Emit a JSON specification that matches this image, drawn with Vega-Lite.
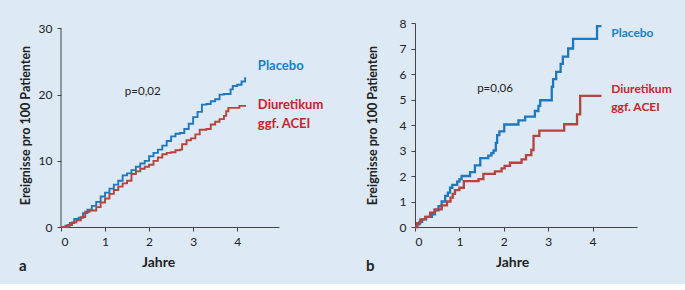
{
  "$schema": "https://vega.github.io/schema/vega-lite/v6.json",
  "background": "#dde9f5",
  "padding": {"left": 19, "top": 17, "right": 32, "bottom": 10},
  "spacing": 42,
  "config": {
    "view": {"stroke": null},
    "font": "Lato",
    "axis": {
      "grid": false,
      "domainColor": "#444",
      "tickColor": "#444",
      "tickSize": 4,
      "labelColor": "#222",
      "labelFontSize": 12,
      "labelFont": "Lato",
      "labelOverlap": false,
      "titleFont": "Lato",
      "titleFontSize": 12.5,
      "titleFontWeight": "bold",
      "titleColor": "#222"
    },
    "text": {"font": "Lato"}
  },
  "datasets": {
    "a": [
      {"t": 0, "y": 0, "s": "Placebo"}, {"t": 0.1, "y": 0.2, "s": "Placebo"}, {"t": 0.2, "y": 0.6, "s": "Placebo"}, {"t": 0.3, "y": 1.2, "s": "Placebo"}, {"t": 0.4, "y": 1.4, "s": "Placebo"}, {"t": 0.5, "y": 2.1, "s": "Placebo"}, {"t": 0.6, "y": 2.6, "s": "Placebo"}, {"t": 0.7, "y": 3.2, "s": "Placebo"}, {"t": 0.8, "y": 3.8, "s": "Placebo"}, {"t": 0.9, "y": 4.6, "s": "Placebo"}, {"t": 1.0, "y": 5.2, "s": "Placebo"}, {"t": 1.1, "y": 5.8, "s": "Placebo"}, {"t": 1.2, "y": 6.4, "s": "Placebo"}, {"t": 1.3, "y": 7.0, "s": "Placebo"}, {"t": 1.4, "y": 7.8, "s": "Placebo"}, {"t": 1.5, "y": 8.1, "s": "Placebo"}, {"t": 1.6, "y": 8.6, "s": "Placebo"}, {"t": 1.7, "y": 9.1, "s": "Placebo"}, {"t": 1.8, "y": 9.6, "s": "Placebo"}, {"t": 1.9, "y": 10.0, "s": "Placebo"}, {"t": 2.0, "y": 10.7, "s": "Placebo"}, {"t": 2.1, "y": 11.2, "s": "Placebo"}, {"t": 2.2, "y": 11.7, "s": "Placebo"}, {"t": 2.3, "y": 12.3, "s": "Placebo"}, {"t": 2.4, "y": 13.0, "s": "Placebo"}, {"t": 2.5, "y": 13.7, "s": "Placebo"}, {"t": 2.6, "y": 14.1, "s": "Placebo"}, {"t": 2.7, "y": 14.2, "s": "Placebo"}, {"t": 2.8, "y": 14.8, "s": "Placebo"}, {"t": 2.9, "y": 15.6, "s": "Placebo"}, {"t": 3.0, "y": 16.6, "s": "Placebo"}, {"t": 3.1, "y": 17.4, "s": "Placebo"}, {"t": 3.2, "y": 18.5, "s": "Placebo"}, {"t": 3.3, "y": 18.6, "s": "Placebo"}, {"t": 3.4, "y": 19.0, "s": "Placebo"}, {"t": 3.5, "y": 19.3, "s": "Placebo"}, {"t": 3.6, "y": 20.0, "s": "Placebo"}, {"t": 3.7, "y": 20.1, "s": "Placebo"}, {"t": 3.85, "y": 20.8, "s": "Placebo"}, {"t": 3.9, "y": 21.3, "s": "Placebo"}, {"t": 4.0, "y": 21.5, "s": "Placebo"}, {"t": 4.1, "y": 22.0, "s": "Placebo"}, {"t": 4.18, "y": 22.5, "s": "Placebo"}, {"t": 4.2, "y": 22.5, "s": "Placebo"},
      {"t": 0, "y": 0, "s": "Diuretikum"}, {"t": 0.15, "y": 0.3, "s": "Diuretikum"}, {"t": 0.25, "y": 0.7, "s": "Diuretikum"}, {"t": 0.35, "y": 1.0, "s": "Diuretikum"}, {"t": 0.45, "y": 1.5, "s": "Diuretikum"}, {"t": 0.55, "y": 2.3, "s": "Diuretikum"}, {"t": 0.65, "y": 2.5, "s": "Diuretikum"}, {"t": 0.8, "y": 3.0, "s": "Diuretikum"}, {"t": 0.9, "y": 3.7, "s": "Diuretikum"}, {"t": 1.0, "y": 4.3, "s": "Diuretikum"}, {"t": 1.1, "y": 5.0, "s": "Diuretikum"}, {"t": 1.2, "y": 5.6, "s": "Diuretikum"}, {"t": 1.3, "y": 6.1, "s": "Diuretikum"}, {"t": 1.4, "y": 6.6, "s": "Diuretikum"}, {"t": 1.5, "y": 7.0, "s": "Diuretikum"}, {"t": 1.6, "y": 8.0, "s": "Diuretikum"}, {"t": 1.7, "y": 8.4, "s": "Diuretikum"}, {"t": 1.8, "y": 8.8, "s": "Diuretikum"}, {"t": 1.9, "y": 9.1, "s": "Diuretikum"}, {"t": 2.0, "y": 9.4, "s": "Diuretikum"}, {"t": 2.1, "y": 10.0, "s": "Diuretikum"}, {"t": 2.2, "y": 10.5, "s": "Diuretikum"}, {"t": 2.3, "y": 11.0, "s": "Diuretikum"}, {"t": 2.4, "y": 11.2, "s": "Diuretikum"}, {"t": 2.5, "y": 11.3, "s": "Diuretikum"}, {"t": 2.6, "y": 11.6, "s": "Diuretikum"}, {"t": 2.7, "y": 11.7, "s": "Diuretikum"}, {"t": 2.75, "y": 12.5, "s": "Diuretikum"}, {"t": 2.85, "y": 13.1, "s": "Diuretikum"}, {"t": 2.95, "y": 13.4, "s": "Diuretikum"}, {"t": 3.05, "y": 14.0, "s": "Diuretikum"}, {"t": 3.15, "y": 14.7, "s": "Diuretikum"}, {"t": 3.3, "y": 14.8, "s": "Diuretikum"}, {"t": 3.4, "y": 15.5, "s": "Diuretikum"}, {"t": 3.5, "y": 15.9, "s": "Diuretikum"}, {"t": 3.6, "y": 16.3, "s": "Diuretikum"}, {"t": 3.7, "y": 16.8, "s": "Diuretikum"}, {"t": 3.75, "y": 17.5, "s": "Diuretikum"}, {"t": 3.8, "y": 18.0, "s": "Diuretikum"}, {"t": 4.0, "y": 18.0, "s": "Diuretikum"}, {"t": 4.05, "y": 18.3, "s": "Diuretikum"}, {"t": 4.2, "y": 18.3, "s": "Diuretikum"}
    ],
    "b": [
      {"t": 0, "y": 0, "s": "Placebo"}, {"t": 0.05, "y": 0.1, "s": "Placebo"}, {"t": 0.1, "y": 0.2, "s": "Placebo"}, {"t": 0.16, "y": 0.3, "s": "Placebo"}, {"t": 0.25, "y": 0.4, "s": "Placebo"}, {"t": 0.38, "y": 0.5, "s": "Placebo"}, {"t": 0.45, "y": 0.65, "s": "Placebo"}, {"t": 0.53, "y": 0.82, "s": "Placebo"}, {"t": 0.6, "y": 1.0, "s": "Placebo"}, {"t": 0.68, "y": 1.22, "s": "Placebo"}, {"t": 0.74, "y": 1.35, "s": "Placebo"}, {"t": 0.79, "y": 1.54, "s": "Placebo"}, {"t": 0.84, "y": 1.65, "s": "Placebo"}, {"t": 0.95, "y": 1.78, "s": "Placebo"}, {"t": 1.0, "y": 1.87, "s": "Placebo"}, {"t": 1.05, "y": 2.0, "s": "Placebo"}, {"t": 1.24, "y": 2.15, "s": "Placebo"}, {"t": 1.35, "y": 2.42, "s": "Placebo"}, {"t": 1.47, "y": 2.7, "s": "Placebo"}, {"t": 1.65, "y": 2.8, "s": "Placebo"}, {"t": 1.72, "y": 2.9, "s": "Placebo"}, {"t": 1.77, "y": 3.0, "s": "Placebo"}, {"t": 1.82, "y": 3.3, "s": "Placebo"}, {"t": 1.85, "y": 3.6, "s": "Placebo"}, {"t": 1.9, "y": 3.75, "s": "Placebo"}, {"t": 2.01, "y": 4.02, "s": "Placebo"}, {"t": 2.33, "y": 4.18, "s": "Placebo"}, {"t": 2.48, "y": 4.33, "s": "Placebo"}, {"t": 2.7, "y": 4.55, "s": "Placebo"}, {"t": 2.78, "y": 4.75, "s": "Placebo"}, {"t": 2.82, "y": 4.97, "s": "Placebo"}, {"t": 3.08, "y": 5.5, "s": "Placebo"}, {"t": 3.11, "y": 5.8, "s": "Placebo"}, {"t": 3.18, "y": 6.08, "s": "Placebo"}, {"t": 3.28, "y": 6.4, "s": "Placebo"}, {"t": 3.33, "y": 6.68, "s": "Placebo"}, {"t": 3.45, "y": 7.0, "s": "Placebo"}, {"t": 3.56, "y": 7.38, "s": "Placebo"}, {"t": 4.1, "y": 7.88, "s": "Placebo"}, {"t": 4.2, "y": 7.88, "s": "Placebo"},
      {"t": 0, "y": 0, "s": "Diuretikum"}, {"t": 0.05, "y": 0.15, "s": "Diuretikum"}, {"t": 0.12, "y": 0.3, "s": "Diuretikum"}, {"t": 0.23, "y": 0.4, "s": "Diuretikum"}, {"t": 0.34, "y": 0.56, "s": "Diuretikum"}, {"t": 0.44, "y": 0.69, "s": "Diuretikum"}, {"t": 0.6, "y": 0.85, "s": "Diuretikum"}, {"t": 0.72, "y": 1.0, "s": "Diuretikum"}, {"t": 0.8, "y": 1.15, "s": "Diuretikum"}, {"t": 0.85, "y": 1.3, "s": "Diuretikum"}, {"t": 0.9, "y": 1.45, "s": "Diuretikum"}, {"t": 1.0, "y": 1.54, "s": "Diuretikum"}, {"t": 1.1, "y": 1.8, "s": "Diuretikum"}, {"t": 1.43, "y": 1.88, "s": "Diuretikum"}, {"t": 1.54, "y": 2.08, "s": "Diuretikum"}, {"t": 1.8, "y": 2.18, "s": "Diuretikum"}, {"t": 1.95, "y": 2.3, "s": "Diuretikum"}, {"t": 2.02, "y": 2.4, "s": "Diuretikum"}, {"t": 2.14, "y": 2.52, "s": "Diuretikum"}, {"t": 2.4, "y": 2.65, "s": "Diuretikum"}, {"t": 2.5, "y": 2.82, "s": "Diuretikum"}, {"t": 2.62, "y": 3.02, "s": "Diuretikum"}, {"t": 2.67, "y": 3.57, "s": "Diuretikum"}, {"t": 2.8, "y": 3.78, "s": "Diuretikum"}, {"t": 3.36, "y": 4.03, "s": "Diuretikum"}, {"t": 3.65, "y": 4.42, "s": "Diuretikum"}, {"t": 3.72, "y": 5.14, "s": "Diuretikum"}, {"t": 4.2, "y": 5.14, "s": "Diuretikum"}
    ]
  },
  "hconcat": [
    {
      "width": 218,
      "height": 204,
      "title": {"text": "a", "orient": "bottom", "anchor": "start", "frame": "bounds", "fontSize": 15, "fontWeight": "bold", "color": "#222", "font": "Lato", "dy": -14},
      "encoding": {
        "x": {"field": "t", "type": "quantitative", "scale": {"domain": [0, 4.95], "nice": false}, "axis": {"values": [0, 1, 2, 3, 4], "title": "Jahre", "titleX": 97, "titleY": 28, "titleFontSize": 14, "labelPadding": 5}},
        "y": {"field": "y", "type": "quantitative", "scale": {"domain": [0, 30.83], "nice": false}, "axis": {"values": [0, 10, 20, 30], "domain": false, "title": "Ereignisse pro 100 Patienten", "titlePadding": 6, "labelPadding": 5}}
      },
      "layer": [
        {
          "data": {"values": [{"t": 0, "y": 0, "y2": 30}]},
          "mark": {"type": "rule", "color": "#444", "strokeWidth": 1},
          "encoding": {"y2": {"field": "y2"}}
        },
        {
          "data": {"name": "a"},
          "mark": {"type": "line", "interpolate": "step-after", "strokeWidth": 1.9},
          "encoding": {
            "stroke": {"field": "s", "type": "nominal", "scale": {"domain": ["Placebo", "Diuretikum"], "range": ["#1f78bd", "#b6443b"]}, "legend": null}
          }
        },
        {
          "data": {"values": [{"t": 4.47, "y": 24.4, "label": "Placebo"}]},
          "mark": {"type": "text", "align": "left", "baseline": "middle", "fontWeight": "bold", "fontSize": 13, "color": "#1a80c4"},
          "encoding": {"text": {"field": "label"}}
        },
        {
          "data": {"values": [{"t": 4.47, "y": 18.5, "label": "Diuretikum"}, {"t": 4.47, "y": 15.6, "label": "ggf. ACEI"}]},
          "mark": {"type": "text", "align": "left", "baseline": "middle", "fontWeight": "bold", "fontSize": 13, "color": "#d0202a"},
          "encoding": {"text": {"field": "label"}}
        },
        {
          "data": {"values": [{"t": 1.45, "y": 20.4, "label": "p=0,02"}]},
          "mark": {"type": "text", "align": "left", "baseline": "middle", "fontSize": 11.5, "color": "#222"},
          "encoding": {"text": {"field": "label"}}
        }
      ]
    },
    {
      "width": 222,
      "height": 204,
      "title": {"text": "b", "orient": "bottom", "anchor": "start", "frame": "bounds", "fontSize": 15, "fontWeight": "bold", "color": "#222", "font": "Lato", "dy": -14},
      "encoding": {
        "x": {"field": "t", "type": "quantitative", "scale": {"domain": [0, 5], "nice": false}, "axis": {"values": [0, 1, 2, 3, 4], "title": "Jahre", "titleX": 97, "titleY": 28, "titleFontSize": 14, "labelPadding": 5}},
        "y": {"field": "y", "type": "quantitative", "scale": {"domain": [0, 8], "nice": false}, "axis": {"values": [0, 1, 2, 3, 4, 5, 6, 7, 8], "title": "Ereignisse pro 100 Patienten", "titlePadding": 20, "labelPadding": 5}}
      },
      "layer": [
        {
          "data": {"name": "b"},
          "mark": {"type": "line", "interpolate": "step-after", "strokeWidth": 2.3},
          "encoding": {
            "stroke": {"field": "s", "type": "nominal", "scale": {"domain": ["Placebo", "Diuretikum"], "range": ["#1f78bd", "#b6443b"]}, "legend": null}
          }
        },
        {
          "data": {"values": [{"t": 4.42, "y": 7.61, "label": "Placebo"}]},
          "mark": {"type": "text", "align": "left", "baseline": "middle", "fontWeight": "bold", "fontSize": 12, "color": "#1a80c4"},
          "encoding": {"text": {"field": "label"}}
        },
        {
          "data": {"values": [{"t": 4.42, "y": 5.41, "label": "Diuretikum"}, {"t": 4.42, "y": 4.69, "label": "ggf. ACEI"}]},
          "mark": {"type": "text", "align": "left", "baseline": "middle", "fontWeight": "bold", "fontSize": 12, "color": "#d0202a"},
          "encoding": {"text": {"field": "label"}}
        },
        {
          "data": {"values": [{"t": 1.4, "y": 5.41, "label": "p=0,06"}]},
          "mark": {"type": "text", "align": "left", "baseline": "middle", "fontSize": 11.5, "color": "#222"},
          "encoding": {"text": {"field": "label"}}
        }
      ]
    }
  ]
}
